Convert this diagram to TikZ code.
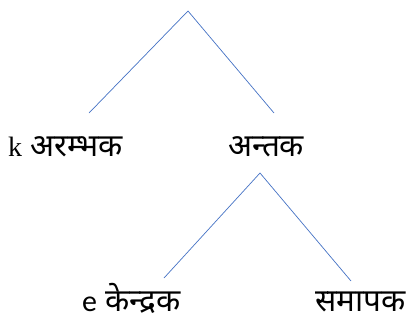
\documentclass[tikz,border=0pt]{standalone}
\usepackage{fontspec}
\newfontfamily\deva[Script=Devanagari]{Noto Sans}
\newfontfamily\latserif{Liberation Serif}
\newfontfamily\latsans{Carlito}
\definecolor{linkblue}{RGB}{68,114,196}
\begin{document}
\begin{tikzpicture}[x=1pt,y=1pt,
  lbl/.style={inner sep=0pt,anchor=base west,font=\deva\fontsize{31.5}{34}\selectfont},
  link/.style={draw=linkblue,line width=0.7pt}]
\useasboundingbox (0,0) rectangle (414,-322);
\node[lbl] (k) at (8,-156) {{\latserif\fontsize{28}{30}\selectfont k} अरम्भक};
\node[lbl] (ant) at (228,-156) {अन्तक};
\node[lbl] (e) at (82,-311) {{\latsans\fontsize{30}{34}\selectfont e} केन्द्रक};
\node[lbl] (sam) at (315,-311) {समापक};
\coordinate (r1) at (188,-11);
\coordinate (k1) at (89,-113);
\coordinate (a1) at (274,-113);
\coordinate (r2) at (260,-173);
\coordinate (e1) at (164,-278);
\coordinate (s1) at (351,-281);
\draw[link] (k1) -- (r1) -- (a1);
\draw[link] (e1) -- (r2) -- (s1);
\end{tikzpicture}
\end{document}
